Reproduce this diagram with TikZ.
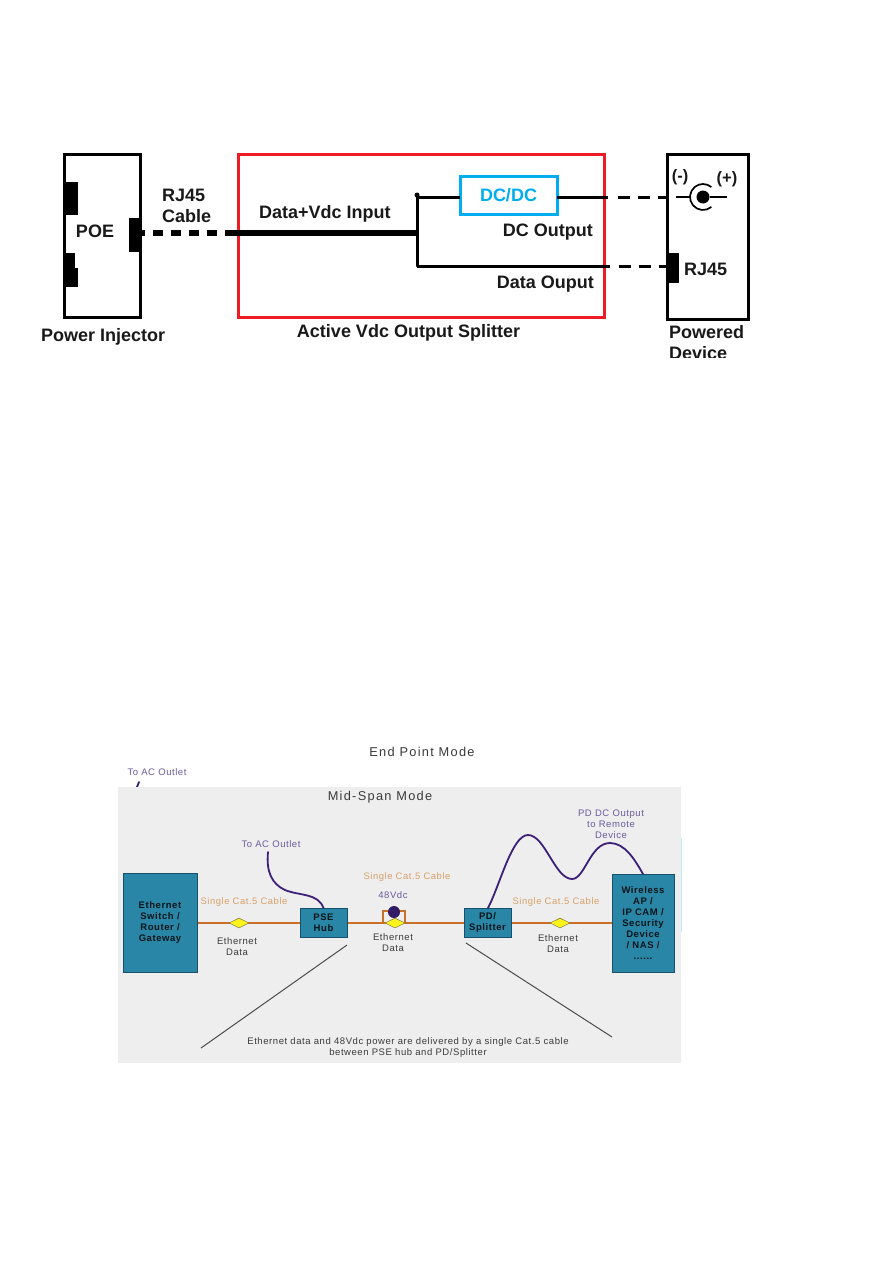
\documentclass[tikz,border=0pt]{standalone}
\usepackage{fontspec}
\setmainfont{Liberation Sans}
\newfontfamily\spaced[LetterSpace=6]{Liberation Sans}
\newfontfamily\spacedwide[LetterSpace=10]{Liberation Sans}
\usetikzlibrary{shapes.geometric}
\definecolor{redbox}{HTML}{ED1C24}
\definecolor{cyanbox}{HTML}{00AEEF}
\definecolor{panel}{HTML}{EEEEEE}
\definecolor{teal}{HTML}{2A86A6}
\definecolor{tealedge}{HTML}{17506A}
\definecolor{cable}{HTML}{C96F28}
\definecolor{orangetxt}{HTML}{D9A066}
\definecolor{purpletxt}{HTML}{6B5A9E}
\definecolor{purplewire}{HTML}{3C1F78}
\definecolor{graytxt}{HTML}{3A3A3A}
\tikzset{
  px/.style={x=1pt,y=-1pt},
  blackbox/.style={draw=black,line width=3pt,fill=white,inner sep=0pt,outer sep=0pt},
  redframe/.style={draw=redbox,line width=3pt,inner sep=0pt,outer sep=0pt},
  cyanframe/.style={draw=cyanbox,line width=3pt,fill=white,inner sep=0pt,outer sep=0pt,text=cyanbox,font=\fontsize{18}{20}\selectfont\bfseries},
  port/.style={fill=black,inner sep=0pt,outer sep=0pt},
  lab/.style={inner sep=0pt,font=\fontsize{18}{21}\selectfont\bfseries,align=left,text=black!90},
  heavy/.style={line width=5.5pt},
  heavydash/.style={line width=5.5pt,dash pattern=on 10pt off 8pt,dash phase=5pt},
  wire/.style={line width=3pt},
  wiredash/.style={line width=3pt,dash pattern=on 12pt off 8pt},
  tealbox/.style={draw=tealedge,line width=1pt,fill=teal,inner sep=0pt,outer sep=0pt,align=center,text=black!85!teal,font=\spaced\fontsize{9.5}{11}\selectfont\bfseries},
  small/.style={inner sep=0pt,align=center,text=graytxt,font=\spaced\fontsize{9.5}{11}\selectfont},
  title/.style={inner sep=0pt,align=center,text=graytxt,font=\spacedwide\fontsize{12.8}{15}\selectfont},
  orangelab/.style={inner sep=0pt,text=orangetxt,font=\spaced\fontsize{9.4}{11}\selectfont},
  purplelab/.style={inner sep=0pt,align=center,text=purpletxt,font=\spaced\fontsize{9.5}{11}\selectfont},
  cat5/.style={draw=cable,line width=2.5pt},
  purplecurve/.style={draw=purplewire,line width=1.8pt,line cap=round},
  gem/.style={diamond,draw=black!60!yellow,line width=.5pt,fill=yellow!90!white,inner sep=0pt,minimum width=20pt,minimum height=10pt},
  leader/.style={draw=black!70,line width=1pt},
}
\begin{document}
\begin{tikzpicture}[px]
\useasboundingbox (0,0) rectangle (894,1263);
\fill[white] (0,0) rectangle (894,1263);

% --- upper diagram ---
\node[blackbox,minimum width=76pt,minimum height=163pt] (poe) at (102,235.5) {};
\node[port,minimum width=14pt,minimum height=33pt] (p1) at (71,198.5) {};
\node[port,minimum width=11pt,minimum height=16pt] (p2) at (69.5,261) {};
\node[port,minimum width=14pt,minimum height=19pt] (p3) at (71,277.5) {};
\node[port,minimum width=11pt,minimum height=34pt] (p4) at (134.5,235) {};
\node[lab] (tpoe) at (95,231) {POE};
\node[lab,anchor=west] (trj) at (162,206) {RJ45\\Cable};
\node[lab,anchor=west] (tpi) at (41,337) {Power Injector};

\node[redframe,minimum width=366pt,minimum height=163pt] (split) at (421,235.5) {};
\node[lab,anchor=west] (tdv) at (259,214) {Data+Vdc Input};
\node[lab] (tsp) at (408.5,333) {Active Vdc Output Splitter};
\node[cyanframe,minimum width=97pt,minimum height=38pt] (dcdc) at (508.5,195) {DC/DC};
\node[lab,anchor=east] (tdco) at (593,232) {DC Output};
\node[lab,anchor=east] (tdat) at (594,284) {Data Ouput};

\node[blackbox,minimum width=81pt,minimum height=165pt] (pd) at (707.5,236.5) {};
\node[port,minimum width=12pt,minimum height=30pt] (p5) at (673,268) {};
\node[lab,anchor=west] (trj2) at (684,269) {RJ45};
\node[lab,font=\fontsize{16.5}{20}\selectfont\bfseries] (tm) at (680,177) {(-)};
\node[lab,font=\fontsize{16.5}{20}\selectfont\bfseries] (tp) at (727,179) {(+)};
\begin{scope}
  \clip (660,322) rectangle (760,357);
  \node[lab,anchor=north west] (tpd) at (669,325) {Powered\\Device};
\end{scope}

\coordinate (jn) at (417,233);
\coordinate (ju) at (417,197);
\coordinate (jd) at (417,266);
\coordinate (solidstart) at (225,233);
\draw[heavydash] (p4.east |- solidstart) -- (solidstart);
\draw[heavy] (solidstart) -- (jn);
\draw[wire,line cap=round] (ju) -- (jd);
\fill (417,195) circle (2.5pt);
\coordinate (dsA) at (608,197);
\coordinate (dsB) at (610,266);
\coordinate (pdA) at (667,197);
\draw[wire] (ju) -- (dcdc.west |- ju);
\draw[wire] (dcdc.east |- dsA) -- (dsA);
\draw[wiredash] (dsA) ++(10,0) -- (pdA);
\draw[wire] (jd) -- (dsB);
\draw[wiredash] (dsB) ++(9,0) -- (p5.west |- dsB);

% jack
\node[circle,fill=black,minimum size=13pt,inner sep=0pt] (jack) at (703,197) {};
\draw[line width=1.7pt] (jack.center) ++(50:13) arc (50:310:13);
\coordinate (jl) at (676,197);
\coordinate (jr) at (727,197);
\coordinate (jla) at (690,197);
\draw[line width=1.5pt] (jl) -- (jla);
\draw[line width=1.5pt] (jack) -- (jr);

% --- lower diagram ---
\node[title] (tend) at (422,752) {End Point Mode};
\node[purplelab] (tac0) at (157,772) {To AC Outlet};
\coordinate (acA) at (139,782);
\coordinate (acB) at (137,787);
\draw[purplecurve] (acA) -- (acB);

\fill[panel] (118,787) rectangle (681,1063);
\node[title] (tmid) at (380,797) {Mid-Span Mode};

\coordinate (c0) at (197,923);
\coordinate (c1) at (612,923);
\draw[cat5] (c0) -- (c1);

\node[tealbox,minimum width=74pt,minimum height=99pt] (sw) at (160,922.5) {Ethernet\\Switch /\\Router /\\Gateway};
\node[tealbox,minimum width=47pt,minimum height=29pt] (pse) at (323.5,922.5) {PSE\\Hub};
\node[tealbox,minimum width=47pt,minimum height=29pt] (spl) at (487.5,922.5) {PD/\\Splitter};
\node[tealbox,minimum width=62pt,minimum height=98pt] (wl) at (643,923) {Wireless\\AP /\\IP CAM /\\Security\\Device\\/ NAS /\\......};

\node[gem] (g1) at (239,923) {};
\draw[draw=cable,line width=1.2pt] (383,923) -- (383,911) -- (405,911) -- (405,923);
\node[gem] (g2) at (395,923) {};
\node[circle,fill=purplewire!85!black,minimum size=12pt,inner sep=0pt] (dot) at (394,912) {};
\node[gem] (g3) at (560,923) {};

\node[orangelab] (o1) at (244,902) {Single Cat.5 Cable};
\node[orangelab] (o2) at (407,877) {Single Cat.5 Cable};
\node[orangelab] (o3) at (556,902) {Single Cat.5 Cable};
\node[purplelab] (t48) at (393,895) {48Vdc};
\node[small] (e1) at (237,947) {Ethernet\\Data};
\node[small] (e2) at (393,943) {Ethernet\\Data};
\node[small] (e3) at (558,944) {Ethernet\\Data};
\node[purplelab] (tac) at (271,844) {To AC Outlet};
\node[purplelab] (tpdc) at (611,824) {PD DC Output\\to Remote\\Device};

\coordinate (acS) at (268,852);
\draw[purplecurve] (acS) .. controls (266,872) and (272,884) .. (285,890)
   .. controls (300,896) and (318,893) .. (pse.north);
\coordinate (plS) at (488,908);
\coordinate (wlE) at (643,874);
\draw[purplecurve] (plS) .. controls (500,885) and (512,835) .. (528,835)
   .. controls (545,835) and (555,879) .. (572,879)
   .. controls (585,879) and (590,843) .. (610,843)
   .. controls (625,843) and (635,860) .. (wlE);

\coordinate (l1a) at (347,945);
\coordinate (l1b) at (201,1048);
\coordinate (l2a) at (466,943);
\coordinate (l2b) at (612,1037);
\draw[leader] (l1a) -- (l1b);
\draw[leader] (l2a) -- (l2b);

\node[small] (cap) at (408,1048) {Ethernet data and 48Vdc power are delivered by a single Cat.5 cable\\between PSE hub and PD/Splitter};

\coordinate (fa) at (681,838);
\coordinate (fb) at (681,932);
\draw[draw=cyanbox!25!white,line width=.6pt] (fa) -- (fb);
\end{tikzpicture}
\end{document}
